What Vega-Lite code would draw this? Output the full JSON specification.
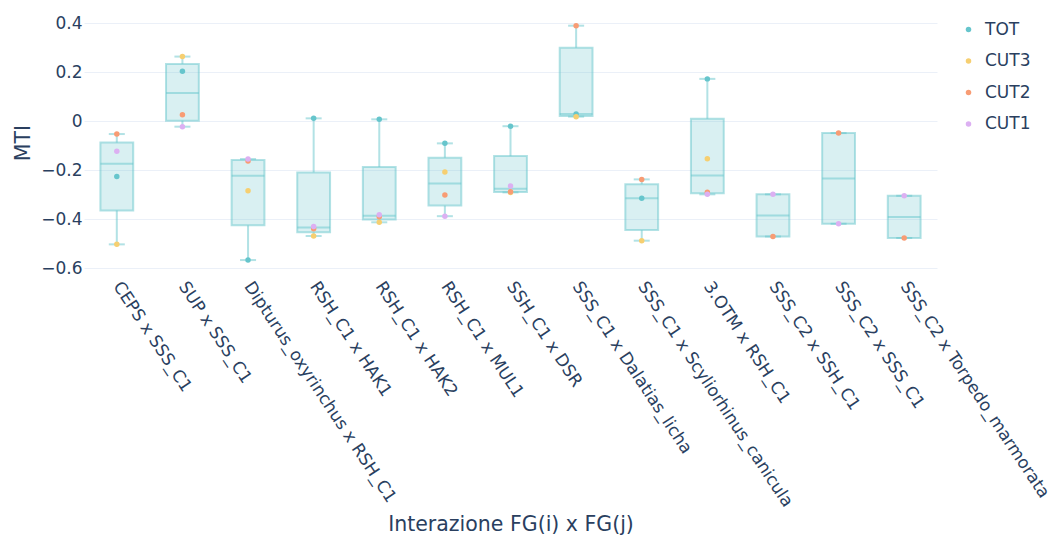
{
  "$schema": "https://vega.github.io/schema/vega-lite/v6.json",
  "autosize": {"type": "none"},
  "padding": {"left": 84, "top": 10, "right": 117, "bottom": 261},
  "width": 853,
  "height": 265,
  "background": "white",
  "config": {
    "font": "DejaVu Sans",
    "view": {"stroke": null},
    "axis": {"labelColor": "#2a3f5f", "titleColor": "#2a3f5f", "titleFontWeight": "normal", "labelFontSize": 17, "titleFontSize": 20.5, "labelFont": "DejaVu Sans", "titleFont": "DejaVu Sans"},
    "legend": {"labelColor": "#2a3f5f", "labelFontSize": 17, "labelFont": "DejaVu Sans"}
  },
  "datasets": {
    "points": [
      {"cat": "CEPS x SSS_C1", "series": "TOT", "MTI": -0.225},
      {"cat": "SUP x SSS_C1", "series": "TOT", "MTI": 0.204},
      {"cat": "Dipturus_oxyrinchus x RSH_C1", "series": "TOT", "MTI": -0.566},
      {"cat": "RSH_C1 x HAK1", "series": "TOT", "MTI": 0.012},
      {"cat": "RSH_C1 x HAK2", "series": "TOT", "MTI": 0.008},
      {"cat": "RSH_C1 x MUL1", "series": "TOT", "MTI": -0.090},
      {"cat": "SSH_C1 x DSR", "series": "TOT", "MTI": -0.020},
      {"cat": "SSS_C1 x Dalatias_licha", "series": "TOT", "MTI": 0.030},
      {"cat": "SSS_C1 x Scyliorhinus_canicula", "series": "TOT", "MTI": -0.314},
      {"cat": "3.OTM x RSH_C1", "series": "TOT", "MTI": 0.173},
      {"cat": "CEPS x SSS_C1", "series": "CUT3", "MTI": -0.502},
      {"cat": "SUP x SSS_C1", "series": "CUT3", "MTI": 0.264},
      {"cat": "Dipturus_oxyrinchus x RSH_C1", "series": "CUT3", "MTI": -0.283},
      {"cat": "RSH_C1 x HAK1", "series": "CUT3", "MTI": -0.468},
      {"cat": "RSH_C1 x HAK2", "series": "CUT3", "MTI": -0.412},
      {"cat": "RSH_C1 x MUL1", "series": "CUT3", "MTI": -0.207},
      {"cat": "SSH_C1 x DSR", "series": "CUT3", "MTI": -0.290},
      {"cat": "SSS_C1 x Dalatias_licha", "series": "CUT3", "MTI": 0.019},
      {"cat": "SSS_C1 x Scyliorhinus_canicula", "series": "CUT3", "MTI": -0.487},
      {"cat": "3.OTM x RSH_C1", "series": "CUT3", "MTI": -0.153},
      {"cat": "CEPS x SSS_C1", "series": "CUT2", "MTI": -0.052},
      {"cat": "SUP x SSS_C1", "series": "CUT2", "MTI": 0.027},
      {"cat": "Dipturus_oxyrinchus x RSH_C1", "series": "CUT2", "MTI": -0.162},
      {"cat": "RSH_C1 x HAK1", "series": "CUT2", "MTI": -0.438},
      {"cat": "RSH_C1 x HAK2", "series": "CUT2", "MTI": -0.389},
      {"cat": "RSH_C1 x MUL1", "series": "CUT2", "MTI": -0.301},
      {"cat": "SSH_C1 x DSR", "series": "CUT2", "MTI": -0.287},
      {"cat": "SSS_C1 x Dalatias_licha", "series": "CUT2", "MTI": 0.390},
      {"cat": "SSS_C1 x Scyliorhinus_canicula", "series": "CUT2", "MTI": -0.237},
      {"cat": "3.OTM x RSH_C1", "series": "CUT2", "MTI": -0.289},
      {"cat": "SSS_C2 x SSH_C1", "series": "CUT2", "MTI": -0.470},
      {"cat": "SSS_C2 x SSS_C1", "series": "CUT2", "MTI": -0.048},
      {"cat": "SSS_C2 x Torpedo_marmorata", "series": "CUT2", "MTI": -0.476},
      {"cat": "CEPS x SSS_C1", "series": "CUT1", "MTI": -0.122},
      {"cat": "SUP x SSS_C1", "series": "CUT1", "MTI": -0.022},
      {"cat": "Dipturus_oxyrinchus x RSH_C1", "series": "CUT1", "MTI": -0.154},
      {"cat": "RSH_C1 x HAK1", "series": "CUT1", "MTI": -0.429},
      {"cat": "RSH_C1 x HAK2", "series": "CUT1", "MTI": -0.381},
      {"cat": "RSH_C1 x MUL1", "series": "CUT1", "MTI": -0.387},
      {"cat": "SSH_C1 x DSR", "series": "CUT1", "MTI": -0.264},
      {"cat": "3.OTM x RSH_C1", "series": "CUT1", "MTI": -0.298},
      {"cat": "SSS_C2 x SSH_C1", "series": "CUT1", "MTI": -0.298},
      {"cat": "SSS_C2 x SSS_C1", "series": "CUT1", "MTI": -0.418},
      {"cat": "SSS_C2 x Torpedo_marmorata", "series": "CUT1", "MTI": -0.304}
    ],
    "boxes": [
      {"cat": "CEPS x SSS_C1", "lo": -0.502, "q1": -0.3635, "med": -0.1735, "q3": -0.087, "hi": -0.052},
      {"cat": "SUP x SSS_C1", "lo": -0.022, "q1": 0.0025, "med": 0.1155, "q3": 0.234, "hi": 0.264},
      {"cat": "Dipturus_oxyrinchus x RSH_C1", "lo": -0.566, "q1": -0.4245, "med": -0.2225, "q3": -0.158, "hi": -0.154},
      {"cat": "RSH_C1 x HAK1", "lo": -0.468, "q1": -0.453, "med": -0.4335, "q3": -0.2085, "hi": 0.012},
      {"cat": "RSH_C1 x HAK2", "lo": -0.412, "q1": -0.4005, "med": -0.385, "q3": -0.1865, "hi": 0.008},
      {"cat": "RSH_C1 x MUL1", "lo": -0.387, "q1": -0.344, "med": -0.254, "q3": -0.1485, "hi": -0.090},
      {"cat": "SSH_C1 x DSR", "lo": -0.290, "q1": -0.2885, "med": -0.2755, "q3": -0.142, "hi": -0.020},
      {"cat": "SSS_C1 x Dalatias_licha", "lo": 0.019, "q1": 0.0218, "med": 0.030, "q3": 0.300, "hi": 0.390},
      {"cat": "SSS_C1 x Scyliorhinus_canicula", "lo": -0.487, "q1": -0.4438, "med": -0.314, "q3": -0.2563, "hi": -0.237},
      {"cat": "3.OTM x RSH_C1", "lo": -0.298, "q1": -0.2935, "med": -0.221, "q3": 0.010, "hi": 0.173},
      {"cat": "SSS_C2 x SSH_C1", "lo": -0.470, "q1": -0.470, "med": -0.384, "q3": -0.298, "hi": -0.298},
      {"cat": "SSS_C2 x SSS_C1", "lo": -0.418, "q1": -0.418, "med": -0.233, "q3": -0.048, "hi": -0.048},
      {"cat": "SSS_C2 x Torpedo_marmorata", "lo": -0.476, "q1": -0.476, "med": -0.390, "q3": -0.304, "hi": -0.304}
    ]
  },
  "encoding": {
    "x": {
      "field": "cat", "type": "nominal", "sort": null,
      "scale": {"domain": ["CEPS x SSS_C1", "SUP x SSS_C1", "Dipturus_oxyrinchus x RSH_C1", "RSH_C1 x HAK1", "RSH_C1 x HAK2", "RSH_C1 x MUL1", "SSH_C1 x DSR", "SSS_C1 x Dalatias_licha", "SSS_C1 x Scyliorhinus_canicula", "3.OTM x RSH_C1", "SSS_C2 x SSH_C1", "SSS_C2 x SSS_C1", "SSS_C2 x Torpedo_marmorata"], "paddingInner": 0, "paddingOuter": 0},
      "axis": {"title": "Interazione FG(i) x FG(j)", "labelAngle": 56.5, "labelAlign": "left", "labelBaseline": "middle", "labelPadding": 8, "labelLimit": 500, "ticks": false, "domain": false, "grid": false, "titleY": 255, "titleBaseline": "alphabetic"}
    }
  },
  "layer": [
    {
      "data": {"name": "boxes"},
      "mark": {"type": "rule", "color": "#66c5cc", "opacity": 0.5, "strokeWidth": 2},
      "encoding": {
        "y": {"field": "lo", "type": "quantitative", "scale": {"domain": [-0.627, 0.454], "nice": false, "zero": false},
          "axis": {"title": "MTI", "values": [-0.6, -0.4, -0.2, 0, 0.2, 0.4], "format": "~g", "grid": true, "gridColor": "#EBF0F8", "gridWidth": 1, "domain": false, "ticks": false, "labelPadding": 2, "titlePadding": 7}},
        "y2": {"field": "q1"}
      }
    },
    {
      "data": {"name": "boxes"},
      "mark": {"type": "rule", "color": "#66c5cc", "opacity": 0.5, "strokeWidth": 2},
      "encoding": {
        "y": {"field": "q3", "type": "quantitative"},
        "y2": {"field": "hi"}
      }
    },
    {
      "data": {"name": "boxes"},
      "mark": {"type": "tick", "color": "#66c5cc", "opacity": 0.5, "size": 16, "thickness": 2, "orient": "horizontal"},
      "encoding": {"y": {"field": "lo", "type": "quantitative"}}
    },
    {
      "data": {"name": "boxes"},
      "mark": {"type": "tick", "color": "#66c5cc", "opacity": 0.5, "size": 16, "thickness": 2, "orient": "horizontal"},
      "encoding": {"y": {"field": "hi", "type": "quantitative"}}
    },
    {
      "data": {"name": "boxes"},
      "mark": {"type": "bar", "width": {"band": 0.5}, "fill": "#66c5cc", "fillOpacity": 0.25, "stroke": "#66c5cc", "strokeOpacity": 0.5, "strokeWidth": 2},
      "encoding": {
        "y": {"field": "q1", "type": "quantitative"},
        "y2": {"field": "q3"}
      }
    },
    {
      "data": {"name": "boxes"},
      "mark": {"type": "tick", "color": "#66c5cc", "opacity": 0.5, "size": 32.8, "thickness": 2, "orient": "horizontal"},
      "encoding": {"y": {"field": "med", "type": "quantitative"}}
    },
    {
      "data": {"name": "points"},
      "mark": {"type": "point", "filled": true, "opacity": 1, "size": 30, "shape": "circle"},
      "encoding": {
        "y": {"field": "MTI", "type": "quantitative"},
        "color": {
          "field": "series", "type": "nominal",
          "scale": {"domain": ["TOT", "CUT3", "CUT2", "CUT1"], "range": ["rgb(102,197,204)", "rgb(246,207,113)", "rgb(248,156,116)", "rgb(220,176,242)"]},
          "legend": {"title": null, "orient": "none", "legendX": 876, "legendY": 11, "rowPadding": 13.5, "symbolSize": 30, "symbolType": "circle", "labelOffset": 8}
        }
      }
    }
  ]
}
